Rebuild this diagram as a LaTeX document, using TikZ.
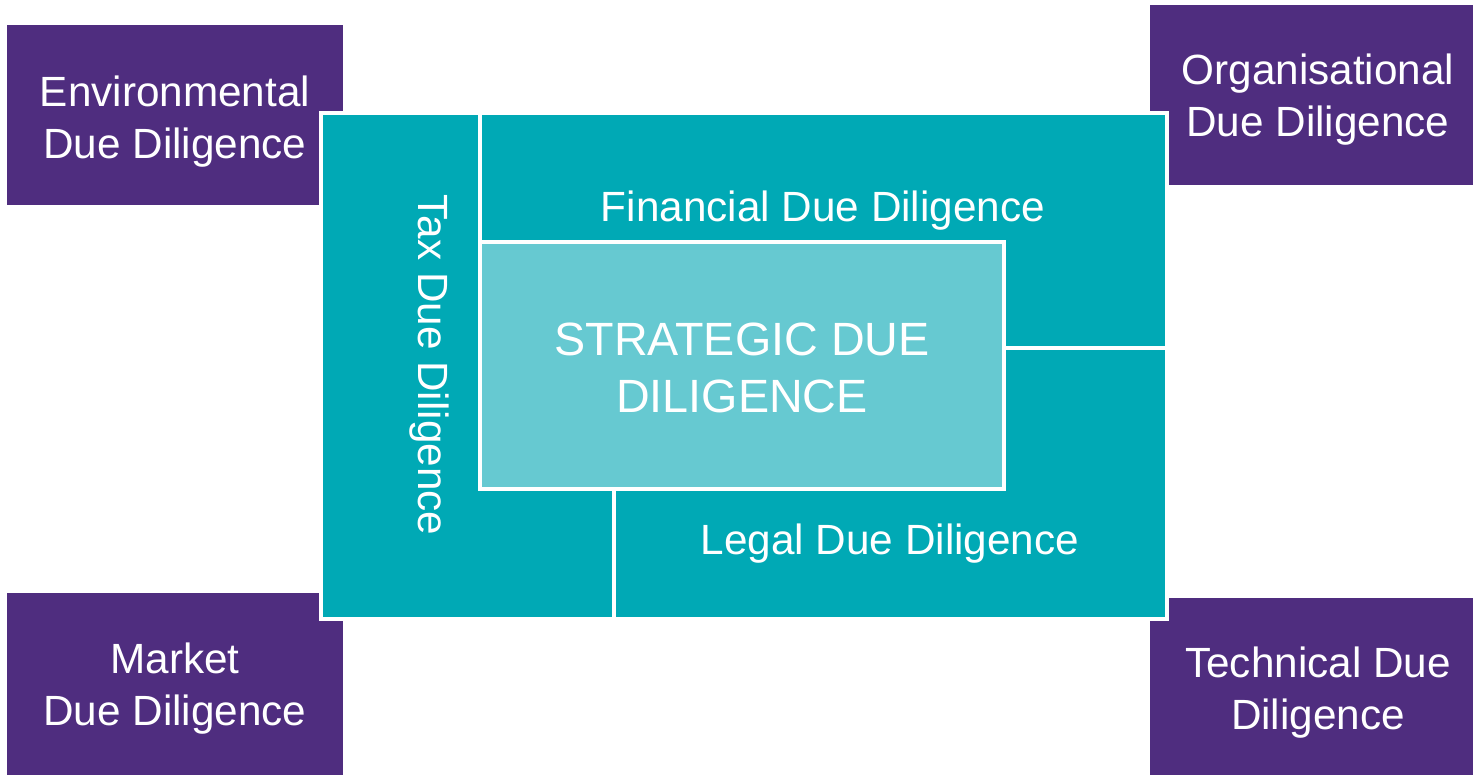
\documentclass[tikz,border=0pt]{standalone}
\usepackage{fontspec}
\setmainfont{Liberation Sans}
\definecolor{ddpurple}{HTML}{4F2D7F}
\definecolor{ddteal}{HTML}{00A9B5}
\definecolor{ddlight}{HTML}{66C9D1}
\tikzset{
  purplebox/.style={fill=ddpurple, draw=none},
  tealpart/.style={fill=ddteal, draw=white, line width=3.2pt, line join=miter},
  lightpart/.style={fill=ddlight, draw=white, line width=3.2pt},
  lbl/.style={text=white, align=center, inner sep=0pt, font=\fontsize{31.7}{39}\selectfont},
  biglbl/.style={text=white, align=center, inner sep=0pt, font=\fontsize{35}{42.5}\selectfont}
}
\begin{document}
\begin{tikzpicture}[x=0.75pt, y=-0.75pt]
\useasboundingbox (0,0) rectangle (1473,775);
% purple corner boxes
\path[purplebox] (7,25) rectangle (343,205);
\path[purplebox] (1150,5) rectangle (1480,185);
\path[purplebox] (7,593) rectangle (343,775);
\path[purplebox] (1150,598) rectangle (1480,775);
% teal pieces
\path[tealpart] (321,113) -- (480,113) -- (480,489) -- (614,489) -- (614,619) -- (321,619) -- cycle;
\path[tealpart] (480,113) -- (1167,113) -- (1167,348) -- (1004,348) -- (1004,242) -- (480,242) -- cycle;
\path[tealpart] (1004,348) -- (1167,348) -- (1167,619) -- (614,619) -- (614,489) -- (1004,489) -- cycle;
\path[lightpart] (480,242) rectangle (1004,489);
% labels
\node[lbl] (env) at (175,122) {Environmental\\Due Diligence};
\node[lbl] (org) at (1318,100) {Organisational\\Due Diligence};
\node[lbl] (mkt) at (175,689) {Market\\Due Diligence};
\node[lbl] (tech) at (1318,693) {Technical Due\\Diligence};
\node[lbl] (fin) at (823,211) {Financial Due Diligence};
\node[lbl] (legal) at (890,544) {Legal Due Diligence};
\node[lbl, rotate=-90] (tax) at (429,365) {Tax Due Diligence};
\node[biglbl] (strat) at (742,368) {STRATEGIC DUE\\DILIGENCE};
\end{tikzpicture}
\end{document}
